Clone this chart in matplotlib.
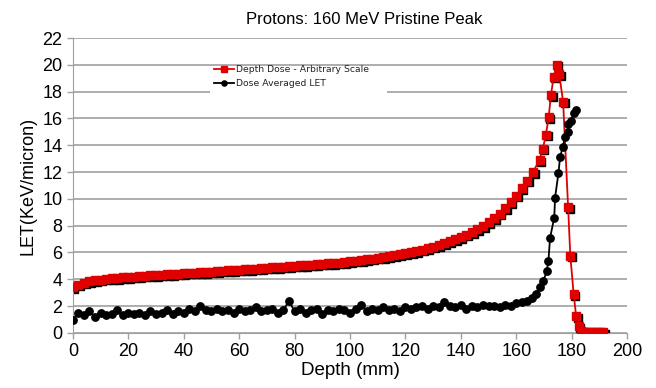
import numpy as np
import matplotlib.pyplot as plt
from matplotlib.patches import Rectangle
from matplotlib.transforms import offset_copy

plt.rcParams['font.family'] = ['Liberation Sans', 'DejaVu Sans']

# depth dose (arbitrary scale), red squares
dose_depth = [0, 2, 4, 6, 8, 10, 12, 14, 16, 18, 20, 22, 24, 26, 28, 30, 32, 34, 36, 38,
              40, 42, 44, 46, 48, 50, 52, 54, 56, 58, 60, 62, 64, 66, 68, 70, 72, 74, 76, 78,
              80, 82, 84, 86, 88, 90, 92, 94, 96, 98, 100, 102, 104, 106, 108, 110, 112, 114,
              116, 118, 120, 122, 124, 126, 128, 130, 132, 134, 136, 138, 140, 142, 144, 146,
              148, 150, 152, 154, 156, 158, 160, 162, 164, 166,
              168.4, 169.6, 170.7, 171.7, 172.5, 173.5, 174.6, 175.5, 176.9, 178.7, 179.5,
              180.7, 181.6, 182.5, 183.5, 184.5, 185.5, 186.5, 187.5, 188.5, 189.5, 190.5, 191.3]
dose_val = [3.4, 3.6, 3.75, 3.85, 3.92, 3.98, 4.03, 4.07, 4.1, 4.14, 4.17, 4.2, 4.23, 4.26,
            4.29, 4.32, 4.35, 4.37, 4.4, 4.43, 4.45, 4.48, 4.5, 4.53, 4.55, 4.58, 4.6, 4.63,
            4.66, 4.68, 4.71, 4.74, 4.77, 4.8, 4.83, 4.86, 4.89, 4.92, 4.95, 4.98, 5.0, 5.03,
            5.06, 5.09, 5.12, 5.15, 5.18, 5.21, 5.25, 5.29, 5.33, 5.38, 5.43, 5.48, 5.54, 5.6,
            5.66, 5.72, 5.79, 5.86, 5.94, 6.02, 6.11, 6.21, 6.32, 6.44, 6.56, 6.69, 6.83, 6.98,
            7.15, 7.33, 7.53, 7.75, 7.98, 8.25, 8.55, 8.9, 9.3, 9.75, 10.25, 10.8, 11.35, 12.0,
            12.9, 13.75, 14.8, 16.1, 17.75, 19.1, 20.0, 19.3, 17.25, 9.4, 5.75,
            2.9, 1.25, 0.5, 0.15, 0.06, 0.05, 0.05, 0.05, 0.05, 0.05, 0.05, 0.05]

# dose averaged LET, black circles
let_depth = [0, 2, 4, 6, 8, 10, 12, 14, 16, 18, 20, 22, 24, 26, 28, 30, 32, 34, 36, 38,
             40, 42, 44, 46, 48, 50, 52, 54, 56, 58, 60, 62, 64, 66, 68, 70, 72, 74, 76, 78,
             80, 82, 84, 86, 88, 90, 92, 94, 96, 98, 100, 102, 104, 106, 108, 110, 112, 114,
             116, 118, 120, 122, 124, 126, 128, 130, 132, 134, 136, 138, 140, 142, 144, 146,
             148, 150, 152, 154, 156, 158, 160, 162, 164,
             165.5, 167, 168.6, 169.8, 171, 171.6, 172.2, 173.7, 174, 175.2, 175.8, 176.8,
             177.6, 178.5, 178.8, 179.8, 180.7, 181.6]
let_val = [1.0, 1.5, 1.3, 1.6, 1.2, 1.5, 1.3, 1.4, 1.7, 1.3, 1.5, 1.4, 1.5, 1.3, 1.6, 1.4,
           1.5, 1.7, 1.4, 1.6, 1.5, 1.8, 1.6, 2.0, 1.7, 1.6, 1.8, 1.6, 1.7, 1.5, 1.8, 1.6,
           1.7, 1.9, 1.6, 1.7, 1.8, 1.5, 1.7, 2.4, 1.6, 1.8, 1.5, 1.7, 1.8, 1.4, 1.7, 1.6,
           1.8, 1.7, 1.5, 1.8, 2.1, 1.6, 1.8, 1.7, 1.9, 1.7, 1.8, 1.6, 1.9, 1.8, 1.9, 2.0,
           1.8, 2.0, 1.9, 2.3, 2.0, 1.9, 2.1, 1.8, 2.0, 1.9, 2.1, 2.0, 2.0, 1.9, 2.1, 2.0,
           2.2, 2.3, 2.4,
           2.6, 2.9, 3.4, 3.9, 4.6, 5.4, 7.1, 8.6, 10.1, 11.9, 13.1, 13.9,
           14.6, 15.0, 15.6, 15.8, 16.4, 16.6]

xticks = np.arange(0, 201, 20)
yticks = np.arange(0, 23, 2)

fig = plt.figure(figsize=(6.56, 3.88), dpi=100)
ax = fig.add_axes([0.111, 0.142, 0.845, 0.760])

# drop shadow under the red squares: a black copy nudged right/down
shade = offset_copy(ax.transData, fig=fig, x=1.6, y=-1.6, units='dots')
ax.plot(dose_depth, dose_val, ls='none', marker='s', ms=5.3,
        mec='black', mfc='black', transform=shade, zorder=2)
ax.plot(dose_depth, dose_val, color='#e00000', lw=1.3, marker='s', ms=5.3,
        mec='#e00000', mfc='#e00000', label='Depth Dose - Arbitrary Scale', zorder=3)
ax.plot(let_depth, let_val, color='black', lw=1.3, marker='o', ms=5.3,
        mec='black', mfc='black', label='Dose Averaged LET', zorder=4)

ax.set_xlim(0, 200)
ax.set_ylim(0, 22)
ax.set_xticks(xticks)
ax.set_yticks(yticks)
ax.grid(axis='y', color='#a0a0a0', lw=1.2)
ax.set_axisbelow(True)
for s in ['top', 'right']:
    ax.spines[s].set_visible(False)
for s in ['left', 'bottom']:
    ax.spines[s].set_color('#a0a0a0')
ax.tick_params(colors='#a0a0a0', labelcolor='black', labelsize=13, length=4, width=1)

ax.set_xlabel('Depth (mm)', fontsize=13.5, labelpad=1)
ax.set_ylabel('LET(KeV/micron)', fontsize=13, labelpad=4)
fig.text(364 / 656, 1 - 19 / 388, 'Protons: 160 MeV Pristine Peak', fontsize=12,
         ha='center', va='center')

# white box behind the legend, blanking the gridline
ax.add_patch(Rectangle((210 / 656, 1 - 93 / 388), 177 / 656, 27 / 388,
                       transform=fig.transFigure, facecolor='white', edgecolor='none',
                       zorder=1.5))
leg = ax.legend(loc='upper left', bbox_to_anchor=(214 / 656, 1 - 65 / 388),
                bbox_transform=fig.transFigure, frameon=False,
                prop={'family': 'DejaVu Sans', 'size': 6.7}, markerscale=0.7,
                handlelength=2.2, handletextpad=0.2, borderpad=0.0, labelspacing=0.55,
                borderaxespad=0)
for t in leg.get_texts():
    t.set_color('#222222')

fig.savefig('out.png', dpi=100)
